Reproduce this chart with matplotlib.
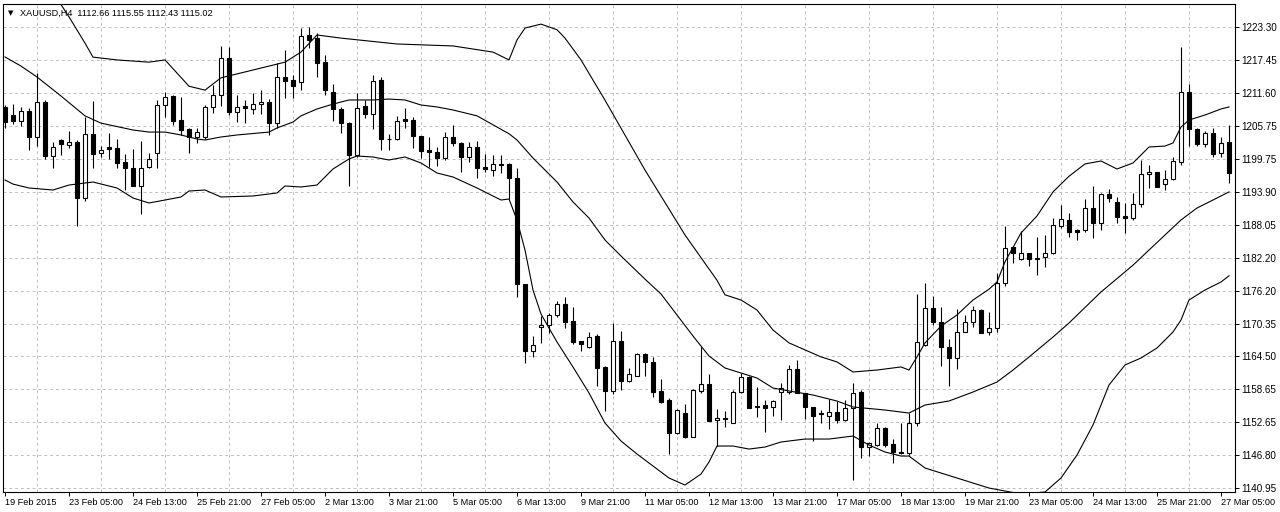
import matplotlib
matplotlib.use("Agg")
import matplotlib.pyplot as plt
import numpy as np

plt.rcParams["font.family"] = ["Liberation Sans", "DejaVu Sans"]

# XAUUSD H4 bars (index 0 = 19 Feb 2015)
opens = [
    1209.09, 1207.65, 1206.58, 1208.37, 1203.72, 1209.98, 1200.32, 1203.18, 1202.29, 1202.83,
    1192.81, 1204.26, 1200.86, 1201.93, 1201.75, 1199.25, 1198.18, 1194.96, 1198.35, 1200.86,
    1209.44, 1211.05, 1206.76, 1205.15, 1203.72, 1203.72, 1209.09, 1211.23, 1217.85, 1208.19,
    1209.26, 1208.73, 1209.62, 1209.98, 1206.22, 1214.45, 1213.91, 1213.56, 1221.96, 1221.42,
    1217.13, 1211.77, 1208.73, 1206.22, 1200.50, 1209.26, 1207.83, 1213.91, 1203.36, 1203.36,
    1206.94, 1206.76, 1203.90, 1201.40, 1201.04, 1199.96, 1203.72, 1202.65, 1200.14, 1201.93,
    1198.35, 1197.82, 1198.89, 1198.89, 1196.39, 1177.43, 1165.45, 1169.74, 1170.10, 1171.89,
    1173.86, 1170.82, 1167.24, 1166.17, 1168.13, 1162.59, 1158.30, 1167.24, 1160.08, 1160.98,
    1164.91, 1163.48, 1158.30, 1156.69, 1150.79, 1154.36, 1150.07, 1158.30, 1159.55, 1153.11,
    1153.47, 1152.57, 1158.12, 1160.80, 1155.44, 1155.79, 1155.44, 1158.12, 1158.12, 1162.23,
    1157.94, 1155.44, 1154.36, 1153.83, 1154.54, 1153.11, 1155.26, 1158.12, 1148.28, 1148.64,
    1151.68, 1148.82, 1147.39, 1147.21, 1152.57, 1166.52, 1173.14, 1170.64, 1166.17, 1164.20,
    1168.85, 1170.64, 1172.78, 1168.85, 1169.56, 1177.61, 1184.05, 1181.90, 1182.98, 1182.08,
    1182.26, 1182.98, 1187.80, 1188.88, 1187.09, 1187.09, 1191.02, 1188.34, 1193.53, 1192.10,
    1189.59, 1189.23, 1191.74, 1197.10, 1197.46, 1195.31, 1196.21, 1199.25, 1211.77, 1205.15,
    1202.47, 1204.44, 1200.86, 1202.83,
]
highs = [
    1209.44, 1209.62, 1209.09, 1208.91, 1215.17, 1210.34, 1202.83, 1203.36, 1204.79, 1203.18,
    1207.30, 1210.16, 1202.11, 1204.44, 1203.36, 1200.68, 1201.57, 1203.00, 1200.86, 1210.34,
    1211.77, 1211.30, 1210.87, 1205.30, 1205.33, 1209.44, 1213.02, 1219.99, 1219.81, 1211.23,
    1210.34, 1211.59, 1212.13, 1210.52, 1216.95, 1219.28, 1214.81, 1223.21, 1223.39, 1222.32,
    1218.38, 1213.20, 1209.09, 1206.40, 1211.59, 1210.34, 1214.81, 1214.45, 1204.26, 1207.48,
    1208.91, 1207.30, 1203.95, 1203.72, 1201.93, 1204.61, 1205.87, 1202.83, 1202.83, 1203.00,
    1200.68, 1200.50, 1200.50, 1199.07, 1198.18, 1177.50, 1168.13, 1171.71, 1172.25, 1174.39,
    1175.11, 1173.32, 1167.30, 1168.85, 1168.49, 1162.76, 1170.46, 1169.03, 1162.41, 1165.10,
    1165.09, 1164.38, 1160.44, 1157.05, 1155.08, 1155.97, 1158.65, 1166.17, 1161.34, 1155.08,
    1154.72, 1158.48, 1161.52, 1160.90, 1159.01, 1156.69, 1156.69, 1159.72, 1162.95, 1163.84,
    1158.00, 1155.50, 1154.90, 1156.87, 1156.51, 1156.69, 1159.72, 1158.48, 1149.18, 1152.57,
    1151.86, 1149.71, 1152.57, 1154.36, 1175.65, 1177.61, 1175.29, 1173.32, 1167.60, 1172.96,
    1171.89, 1173.50, 1172.90, 1172.42, 1179.40, 1187.80, 1184.10, 1186.91, 1183.05, 1185.84,
    1186.20, 1189.23, 1191.56, 1190.13, 1187.27, 1192.63, 1194.96, 1193.71, 1194.42, 1192.99,
    1191.92, 1193.71, 1199.61, 1198.71, 1197.50, 1197.82, 1200.14, 1219.81, 1213.20, 1205.33,
    1204.79, 1205.33, 1203.72, 1205.87,
]
lows = [
    1205.33, 1206.04, 1205.69, 1201.40, 1202.11, 1199.79, 1198.18, 1200.50, 1201.75, 1187.80,
    1192.27, 1198.18, 1200.14, 1199.79, 1198.18, 1194.24, 1194.90, 1189.95, 1198.18, 1198.18,
    1207.30, 1205.87, 1204.08, 1200.86, 1202.65, 1203.36, 1208.01, 1209.26, 1207.65, 1206.40,
    1206.22, 1207.83, 1207.83, 1204.08, 1205.33, 1210.69, 1210.69, 1212.13, 1219.64, 1214.45,
    1211.23, 1206.58, 1204.44, 1194.96, 1200.14, 1207.12, 1205.15, 1201.40, 1201.40, 1203.18,
    1205.33, 1201.75, 1199.96, 1198.35, 1198.53, 1199.61, 1202.11, 1197.46, 1199.25, 1196.39,
    1197.46, 1196.74, 1197.28, 1192.63, 1175.11, 1163.30, 1164.38, 1166.88, 1168.67, 1171.53,
    1169.56, 1166.70, 1165.45, 1165.99, 1159.19, 1154.72, 1157.76, 1158.48, 1159.90, 1160.98,
    1160.98, 1157.22, 1156.20, 1147.03, 1150.70, 1149.89, 1150.00, 1157.94, 1152.85, 1148.46,
    1151.86, 1152.50, 1157.94, 1155.20, 1153.65, 1150.97, 1153.83, 1153.11, 1157.76, 1157.90,
    1153.29, 1149.36, 1152.57, 1151.50, 1152.57, 1152.93, 1142.38, 1146.32, 1146.67, 1148.46,
    1148.28, 1145.42, 1147.03, 1146.85, 1152.04, 1166.35, 1170.10, 1162.76, 1159.19, 1162.23,
    1168.80, 1169.74, 1168.60, 1168.31, 1168.85, 1177.08, 1181.19, 1181.72, 1180.65, 1179.04,
    1180.47, 1182.80, 1187.45, 1185.84, 1185.30, 1186.73, 1185.66, 1187.09, 1192.10, 1188.34,
    1186.55, 1188.88, 1191.20, 1194.60, 1194.70, 1194.24, 1196.10, 1198.71, 1202.11, 1202.11,
    1201.93, 1200.14, 1200.14, 1195.49,
]
closes = [
    1206.40, 1206.58, 1208.37, 1203.72, 1209.98, 1200.32, 1201.93, 1202.47, 1202.83, 1192.81,
    1204.26, 1200.68, 1201.40, 1201.57, 1199.07, 1198.18, 1194.96, 1198.18, 1199.79, 1209.44,
    1210.87, 1206.58, 1204.97, 1203.72, 1204.61, 1209.09, 1211.23, 1217.85, 1208.19, 1209.09,
    1208.91, 1209.62, 1209.98, 1206.22, 1214.45, 1213.73, 1212.84, 1221.78, 1221.07, 1216.95,
    1212.13, 1208.73, 1206.22, 1200.50, 1208.91, 1207.83, 1213.73, 1203.36, 1203.30, 1206.58,
    1206.58, 1203.90, 1201.22, 1201.04, 1199.96, 1203.72, 1202.65, 1200.14, 1201.93, 1198.18,
    1198.00, 1198.89, 1198.71, 1196.39, 1177.43, 1165.45, 1166.52, 1170.10, 1171.89, 1173.86,
    1170.64, 1167.06, 1166.70, 1167.95, 1162.41, 1158.30, 1167.24, 1160.08, 1161.34, 1164.91,
    1163.48, 1158.12, 1156.33, 1150.79, 1154.90, 1150.07, 1158.48, 1159.55, 1152.93, 1153.47,
    1153.29, 1158.12, 1160.80, 1155.26, 1155.61, 1155.26, 1156.51, 1158.83, 1162.23, 1157.94,
    1155.44, 1153.83, 1154.18, 1154.54, 1153.11, 1155.26, 1157.94, 1148.28, 1149.00, 1151.68,
    1148.64, 1147.39, 1147.21, 1152.57, 1167.06, 1173.14, 1170.64, 1166.17, 1164.20, 1168.85,
    1170.64, 1172.78, 1168.67, 1169.56, 1177.61, 1183.87, 1182.98, 1182.98, 1181.90, 1181.90,
    1182.98, 1187.98, 1189.06, 1186.73, 1186.73, 1191.02, 1188.34, 1193.53, 1192.81, 1189.41,
    1189.23, 1191.74, 1197.10, 1197.46, 1194.78, 1196.21, 1199.43, 1211.77, 1205.15, 1202.47,
    1204.44, 1200.68, 1202.65, 1197.28,
]

# Bollinger bands at selected bars
upper_bars = [0, 3, 6, 8, 10, 11, 14, 18, 20, 23, 25, 27, 31, 35, 37, 39,
              42, 49, 56, 61, 63, 64, 65, 67, 69, 70, 72, 75, 80, 85, 89, 90,
              92, 94, 96, 98, 102, 104, 106, 109, 112, 113, 114, 115, 117, 119, 121, 123,
              124, 125, 127, 129, 131, 133, 135, 137, 139, 141, 143, 145, 146, 147, 148, 150,
              152, 153]
upper_band = [1241.6, 1234.5, 1229.6, 1225.2, 1220.5, 1218.0, 1217.5, 1217.1, 1217.5, 1212.8,
              1212.1, 1214.3, 1215.7, 1217.1, 1218.9, 1221.96,
              1221.4, 1220.35, 1220.0, 1218.9, 1217.5, 1221.07, 1223.2, 1223.9, 1222.9, 1221.4,
              1217.5, 1210.3, 1197.8, 1186.2, 1178.1, 1175.5,
              1174.57, 1172.78, 1169.2, 1166.9, 1164.4, 1163.5, 1161.7, 1162.05, 1162.6, 1162.05,
              1164.4, 1166.9, 1169.9, 1171.9, 1174.57, 1176.5,
              1177.8, 1181.4, 1186.55, 1189.6, 1193.9, 1196.7, 1198.9, 1199.43, 1198.0, 1199.07,
              1201.93, 1202.1, 1202.65, 1205.5, 1206.76, 1207.65,
              1208.73, 1209.09]

middle_bars = [0, 2, 4, 7, 10, 12, 16, 18, 20, 22, 24, 25, 27, 29, 33, 34,
               36, 37, 39, 41, 43, 46, 48, 50, 52, 54, 56, 59, 61, 63, 64, 66,
               68, 69, 71, 73, 75, 77, 80, 82, 84, 86, 88, 90, 92, 94, 96, 98,
               101, 104, 106, 110, 113, 115, 118, 121, 124, 126, 128, 131, 133, 137, 141, 145,
               147, 149, 151, 153]
middle_band = [1218.03, 1216.4, 1214.45, 1211.05, 1207.5, 1206.2, 1204.97, 1204.6, 1204.6, 1204.08,
               1203.36, 1203.18, 1203.72, 1204.08, 1204.6, 1205.33,
               1206.4, 1207.5, 1208.73, 1209.6, 1210.34, 1210.34, 1210.5, 1210.34, 1209.44, 1209.09,
               1208.55, 1207.5, 1205.9, 1204.3, 1203.18, 1199.96,
               1197.1, 1195.67, 1192.1, 1189.23, 1185.3, 1182.44, 1178.3, 1175.65, 1171.89, 1168.13,
               1164.56, 1162.41, 1161.52, 1160.62, 1158.83, 1158.3,
               1157.58, 1156.51, 1155.44, 1154.9, 1154.36, 1155.79, 1156.51, 1158.12, 1159.9, 1162.05,
               1164.38, 1167.95, 1170.46, 1176.0, 1180.8, 1186.2,
               1188.88, 1191.02, 1192.45, 1193.9]

lower_bars = [0, 1, 3, 6, 8, 11, 14, 16, 18, 20, 22, 23, 25, 27, 31, 34,
              35, 37, 39, 41, 43, 44, 46, 48, 50, 52, 54, 56, 59, 60, 62, 63,
              64, 65, 66, 67, 68, 69, 71, 73, 75, 77, 79, 81, 83, 85, 87, 88,
              89, 91, 93, 95, 97, 100, 103, 106, 108, 110, 112, 113, 114, 115, 119, 123,
              127, 130, 132, 134, 136, 138, 140, 142, 144, 146, 147, 148, 150, 152, 153]
lower_band = [1196.03, 1195.3, 1194.6, 1194.24, 1195.13, 1195.67, 1194.6, 1192.81, 1191.92, 1192.45,
              1192.99, 1194.06, 1194.24, 1192.99, 1193.17, 1193.71,
              1194.96, 1194.78, 1195.13, 1198.0, 1199.79, 1200.32, 1200.14, 1199.61, 1200.14, 1199.07,
              1197.28, 1196.57, 1194.6, 1193.88, 1192.45, 1192.63,
              1188.88, 1183.51, 1176.36, 1172.07, 1169.56, 1167.06, 1162.59, 1157.94, 1152.57, 1149.36,
              1147.03, 1144.89, 1142.74, 1141.49, 1143.45, 1145.6,
              1148.46, 1148.46, 1147.92, 1148.28, 1149.18, 1149.71, 1149.71, 1150.25, 1148.64, 1147.39,
              1146.67, 1146.67, 1145.6, 1144.53, 1142.74, 1140.95,
              1139.88, 1140.24, 1142.74, 1146.85, 1152.22, 1159.37, 1162.95, 1164.2, 1165.99, 1168.85,
              1170.99, 1174.57, 1176.36, 1177.79, 1178.9]

date_labels = ["19 Feb 2015", "23 Feb 05:00", "24 Feb 13:00", "25 Feb 21:00", "27 Feb 05:00",
               "2 Mar 13:00", "3 Mar 21:00", "5 Mar 05:00", "6 Mar 13:00", "9 Mar 21:00",
               "11 Mar 05:00", "12 Mar 13:00", "13 Mar 21:00", "17 Mar 05:00", "18 Mar 13:00",
               "19 Mar 21:00", "23 Mar 05:00", "24 Mar 13:00", "25 Mar 21:00", "27 Mar 05:00"]
price_labels = ["1140.95", "1146.80", "1152.65", "1158.65", "1164.50", "1170.35", "1176.20",
                "1182.20", "1188.05", "1193.90", "1199.75", "1205.75", "1211.60", "1217.45",
                "1223.30"]

W, H = 1280, 512
fig = plt.figure(figsize=(W / 100, H / 100), dpi=100)
fig.patch.set_facecolor("white")
ax = fig.add_axes([3 / W, 20 / H, 1232 / W, 488 / H])

o = np.array(opens)
c = np.array(closes)
x = np.arange(len(o))
bull = c > o

# wicks
ax.vlines(x, lows, highs, color="black", lw=0.8, zorder=2)
# bodies
body_lo = np.minimum(o, c)
body_h = np.abs(c - o)
ax.bar(x, body_h, bottom=body_lo, width=0.55,
       color=np.where(bull, "white", "black"), edgecolor="black", linewidth=0.8, zorder=3)

# Bollinger bands
for bars, vals in [(upper_bars, upper_band), (middle_bars, middle_band), (lower_bars, lower_band)]:
    ax.plot(bars, vals, color="black", lw=0.8, zorder=4)

ax.set_xlim(-0.25, 153.75)
ax.set_ylim(1140.24, 1227.50)

# axes styling
for s in ax.spines.values():
    s.set_color("black")
    s.set_linewidth(0.8)

ax.yaxis.tick_right()
yt = np.linspace(1140.95, 1223.30, len(price_labels))
ax.set_yticks(yt, price_labels)
ax.tick_params(axis="y", length=3, width=0.7, pad=1.5, labelsize=7.1, colors="black")

xt = np.arange(0, 153, 8)
ax.set_xticks(xt, date_labels)
ax.set_xticks(np.arange(0, 154, 4), minor=True)
ax.tick_params(axis="x", which="major", length=3, width=0.7, pad=1.2, labelsize=6.6)
ax.tick_params(axis="x", which="minor", length=0)
for lab in ax.get_xticklabels():
    lab.set_horizontalalignment("left")

ax.grid(True, axis="y", color="#c0c0c0", linestyle=(0, (3, 3)), lw=0.7, zorder=0)
ax.grid(True, axis="x", which="minor", color="#c0c0c0", linestyle=(0, (3, 3)), lw=0.7, zorder=0)
ax.set_axisbelow(True)

# symbol header
fig.text(8 / W, 1 - 13 / H, "\u25bc", fontsize=5, family=["DejaVu Sans"], va="center", ha="left")
fig.text(20 / W, 1 - 13 / H, "XAUUSD,H4  1112.66 1115.55 1112.43 1115.02",
         fontsize=6.6, va="center", ha="left")

fig.savefig("out.png", dpi=100, facecolor="white")
